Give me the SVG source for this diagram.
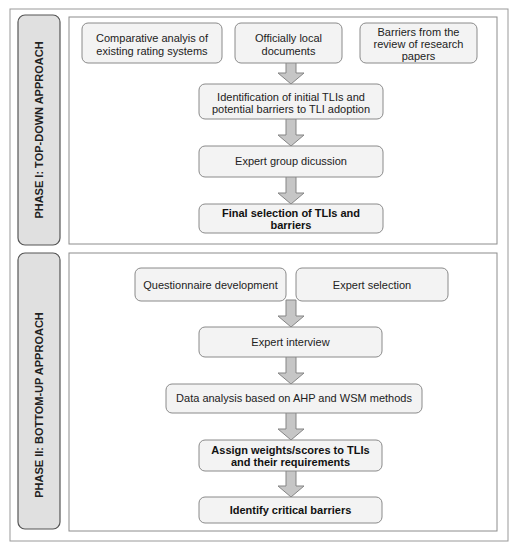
<svg xmlns="http://www.w3.org/2000/svg" width="513" height="550" viewBox="0 0 513 550">
<style>
.frame{fill:#fff;stroke:#8c8c8c;stroke-width:1}
.side{fill:#e0e0e0;stroke:#555;stroke-width:1.2}
.node{fill:#f3f3f3;stroke:#8a8a8a;stroke-width:1}
.t{font-family:"Liberation Sans",Arial,sans-serif;font-size:11px;fill:#222;text-anchor:middle}
.b{font-weight:bold;fill:#111}
.lab{font-family:"Liberation Sans",Arial,sans-serif;font-size:11px;font-weight:bold;fill:#222;text-anchor:middle}
.arr{fill:#c6c6c6;stroke:#858585;stroke-width:1}
</style>
<rect width="513" height="550" fill="#fff"/>
<rect x="10" y="9" width="498" height="532" fill="#fff" stroke="#999" stroke-width="1"/>
<g id="phase1">
<rect class="side" x="18" y="15" width="42" height="230" rx="7"/>
<text class="lab" transform="translate(43,130) rotate(-90)">PHASE I: TOP-DOWN APPROACH</text>
<rect class="frame" x="69" y="17" width="428" height="227"/>
</g>
<g id="phase2">
<rect class="side" x="18" y="253" width="42" height="276" rx="7"/>
<text class="lab" transform="translate(43,405) rotate(-90)">PHASE II: BOTTOM-UP APPROACH</text>
<rect class="frame" x="69" y="253" width="428" height="278"/>
</g>
<g id="connectors">
<path class="arr" d="M286,62 L296,62 L296,73 L304,73 L291,84 L278,73 L286,73 Z"/>
<path class="arr" d="M286,118 L296,118 L296,135 L304,135 L291,146 L278,135 L286,135 Z"/>
<path class="arr" d="M286,176 L296,176 L296,193 L304,193 L291,204 L278,193 L286,193 Z"/>
<path class="arr" d="M286,300 L296,300 L296,316 L304,316 L291,327 L278,316 L286,316 Z"/>
<path class="arr" d="M286,356 L296,356 L296,373 L304,373 L291,384 L278,373 L286,373 Z"/>
<path class="arr" d="M286,412 L296,412 L296,429 L304,429 L291,440 L278,429 L286,429 Z"/>
<path class="arr" d="M286,470 L296,470 L296,486 L304,486 L291,497 L278,486 L286,486 Z"/>
</g>
<g id="n1">
<rect class="node" x="82" y="23" width="140" height="40" rx="6"/>
<text class="t" x="152" y="42">Comparative analyis of</text>
<text class="t" x="152" y="55">existing rating systems</text>
</g>
<g id="n2">
<rect class="node" x="235" y="23" width="107" height="40" rx="6"/>
<text class="t" x="288.5" y="42">Officially local</text>
<text class="t" x="288.5" y="55">documents</text>
</g>
<g id="n3">
<rect class="node" x="360" y="23" width="117" height="40" rx="6"/>
<text class="t" x="418.5" y="36">Barriers from the</text>
<text class="t" x="418.5" y="48">review of research</text>
<text class="t" x="418.5" y="60">papers</text>
</g>
<g id="n4">
<rect class="node" x="199" y="84" width="184" height="35" rx="6"/>
<text class="t" x="291" y="101">Identification of initial TLIs and</text>
<text class="t" x="291" y="113">potential barriers to TLI adoption</text>
</g>
<g id="n5">
<rect class="node" x="199" y="146" width="184" height="31" rx="6"/>
<text class="t" x="291" y="165">Expert group dicussion</text>
</g>
<g id="n6">
<rect class="node" x="199" y="204" width="184" height="29" rx="6"/>
<text class="t b" x="291" y="217">Final selection of TLIs and</text>
<text class="t b" x="291" y="229">barriers</text>
</g>
<g id="n7">
<rect class="node" x="135" y="268" width="151" height="33" rx="6"/>
<text class="t" x="210.5" y="289">Questionnaire development</text>
</g>
<g id="n8">
<rect class="node" x="296" y="268" width="152" height="33" rx="6"/>
<text class="t" x="372" y="289">Expert selection</text>
</g>
<g id="n9">
<rect class="node" x="199" y="327" width="183" height="30" rx="6"/>
<text class="t" x="290.5" y="346">Expert interview</text>
</g>
<g id="n10">
<rect class="node" x="166" y="384" width="256" height="29" rx="6"/>
<text class="t" x="294" y="402">Data analysis based on AHP and WSM methods</text>
</g>
<g id="n11">
<rect class="node" x="199" y="440" width="183" height="31" rx="6"/>
<text class="t b" x="290.5" y="454">Assign weights/scores to TLIs</text>
<text class="t b" x="290.5" y="466">and their requirements</text>
</g>
<g id="n12">
<rect class="node" x="199" y="497" width="183" height="26" rx="6"/>
<text class="t b" x="290.5" y="514">Identify critical barriers</text>
</g>
</svg>
